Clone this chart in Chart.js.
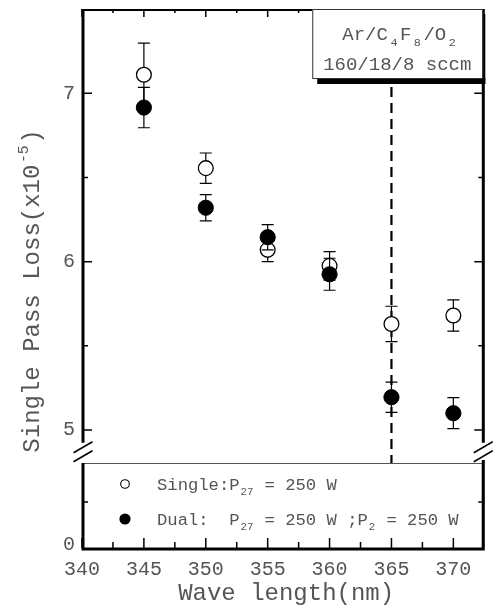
<!DOCTYPE html>
<html><head><meta charset="utf-8">
<style>html,body{margin:0;padding:0;background:#fff;}canvas{display:block;}</style>
<script src="https://cdn.jsdelivr.net/npm/chart.js@4"></script>
</head><body>
<canvas id="c" width="493" height="608"></canvas>
<script>
// ---- data ----
const wavelengths = [345, 350, 355, 360, 365, 370];
const singleLoss  = [7.11, 6.555, 6.07, 5.975, 5.63, 5.68];
const singleErr   = [0.187, 0.09, 0.07, 0.085, 0.105, 0.093];
const dualLoss    = [6.915, 6.32, 6.145, 5.925, 5.195, 5.10];
const dualErr     = [0.12, 0.078, 0.075, 0.095, 0.09, 0.092];
const xTickValues = [340, 345, 350, 355, 360, 365, 370];
const xTickLabels = ['340', '345', '350', '355', '360', '365', '370'];
const xMinorTicks = [342.5, 347.5, 352.5, 357.5, 362.5, 367.5];
const yUpperTicks = [5, 6, 7];
const yUpperLabels = ['5', '6', '7'];
const yUpperMinor = [5.5, 6.5];
const yLowerTicks = [0];
const yLowerLabels = ['0'];
const yLowerMinor = [2.5];
const dashedAt = 365;
const legendSingle = [['Single:P'], ['27', 'sub'], [' = 250 W']];
const legendDual = [['Dual:  P'], ['27', 'sub'], [' = 250 W ;P'], ['2', 'sub'], [' = 250 W']];
const noteLine1 = [['Ar/C'], ['4', 'sub'], ['F'], ['8', 'sub'], ['/O'], ['2', 'sub']];
const noteLine2 = [['160/18/8 sccm']];
const yTitle = [['Single Pass Loss(x10'], ['-5', 'sup'], [')']];
const xTitle = [['Wave length(nm)']];

const TEXT = '#555';
const fontOf = s => s + 'px "Liberation Mono", "DejaVu Sans Mono", monospace';

function richWidth(ctx, segs, size, pad) {
  let w = 0;
  for (const [t, k] of segs) {
    ctx.font = fontOf(k ? size * 0.62 : size);
    w += ctx.measureText(t).width + (k ? 2 * pad : 0);
  }
  return w;
}
function drawRich(ctx, segs, x, y, size, pad) {
  let cx = x;
  for (const [t, k] of segs) {
    const s = k ? size * 0.62 : size;
    ctx.font = fontOf(s);
    const dy = k === 'sub' ? size * 0.32 : (k === 'sup' ? -size * 0.45 : 0);
    if (k) cx += pad;
    ctx.fillText(t, cx, y + dy);
    cx += ctx.measureText(t).width + (k ? pad : 0);
  }
}

const hidden = {ticks: {display: false}, grid: {display: false, drawTicks: false}, border: {display: false}};
const legendTopValue = 4.62; // on the lower (broken) axis

const errorBars = {
  id: 'errorBars',
  beforeDatasetDraw(chart, args) {
    const ds = chart.data.datasets[args.index];
    const xs = chart.scales.x, ys = chart.scales[ds.yAxisID];
    const ctx = chart.ctx;
    ctx.save();
    ctx.strokeStyle = '#000';
    ctx.lineWidth = 1.2;
    ds.data.forEach((p, i) => {
      const e = ds.errors[i];
      const px = xs.getPixelForValue(p.x);
      const t = ys.getPixelForValue(p.y + e), b = ys.getPixelForValue(p.y - e);
      ctx.beginPath();
      ctx.moveTo(px, t); ctx.lineTo(px, b);
      ctx.moveTo(px - 6, t); ctx.lineTo(px + 6, t);
      ctx.moveTo(px - 6, b); ctx.lineTo(px + 6, b);
      ctx.stroke();
    });
    ctx.restore();
  }
};

const decor = {
  id: 'decor',
  beforeDatasetsDraw(chart) {
    const ctx = chart.ctx, a = chart.chartArea, xs = chart.scales.x;
    const px = xs.getPixelForValue(dashedAt);
    const lgTop = chart.scales.y2.getPixelForValue(legendTopValue);
    ctx.save();
    ctx.strokeStyle = '#000';
    ctx.lineWidth = 2.2;
    ctx.setLineDash([10, 6]);
    ctx.beginPath();
    ctx.moveTo(px, a.top + 78); ctx.lineTo(px, lgTop);
    ctx.stroke();
    ctx.restore();
  },
  afterDraw(chart) {
    const ctx = chart.ctx, a = chart.chartArea;
    const xs = chart.scales.x, yu = chart.scales.y, yl = chart.scales.y2;
    ctx.save();
    // legend box
    const lgTop = yl.getPixelForValue(legendTopValue);
    ctx.strokeStyle = '#555'; ctx.lineWidth = 1;
    ctx.strokeRect(a.left + 0.5, lgTop + 0.5, a.right - a.left - 2.5, a.bottom - lgTop);
    // legend entries
    const lx = a.left + 43;
    ctx.fillStyle = '#fff'; ctx.strokeStyle = '#000'; ctx.lineWidth = 1.1;
    ctx.beginPath(); ctx.arc(lx, lgTop + 21, 4.3, 0, Math.PI * 2); ctx.fill(); ctx.stroke();
    ctx.fillStyle = '#000';
    ctx.beginPath(); ctx.arc(lx, lgTop + 56, 5.6, 0, Math.PI * 2); ctx.fill();
    ctx.fillStyle = TEXT; ctx.textAlign = 'left'; ctx.textBaseline = 'alphabetic';
    drawRich(ctx, legendSingle, a.left + 75, lgTop + 27, 17.2, 1);
    drawRich(ctx, legendDual, a.left + 75, lgTop + 62, 17.2, 1);

    // frame lines
    ctx.strokeStyle = '#000';
    const breakTop = yu.getPixelForValue(4.925);
    ctx.lineWidth = 3;
    ctx.beginPath();
    ctx.moveTo(a.left + 1, a.top); ctx.lineTo(a.left + 1, breakTop);
    ctx.moveTo(a.left + 1, lgTop); ctx.lineTo(a.left + 1, a.bottom + 1);
    ctx.lineTo(a.right - 1, a.bottom + 1);
    ctx.lineTo(a.right - 1, lgTop - 3);
    ctx.moveTo(a.right - 1, breakTop); ctx.lineTo(a.right - 1, a.top);
    ctx.stroke();
    ctx.lineWidth = 2;
    ctx.beginPath(); ctx.moveTo(a.left, a.top + 1); ctx.lineTo(a.right, a.top + 1); ctx.stroke();
    // break marks
    ctx.lineWidth = 1.6;
    [a.left + 1, a.right - 1].forEach(bx => {
      [breakTop + 4.5, breakTop + 13.5].forEach(by => {
        ctx.beginPath(); ctx.moveTo(bx - 9.5, by + 5.5); ctx.lineTo(bx + 9.5, by - 5.5); ctx.stroke();
      });
    });

    // ticks
    ctx.lineWidth = 1.5;
    ctx.beginPath();
    const vt = (v, len) => { const p = xs.getPixelForValue(v);
      ctx.moveTo(p, a.bottom); ctx.lineTo(p, a.bottom - len);
      ctx.moveTo(p, a.top); ctx.lineTo(p, a.top + len - 2); };
    xTickValues.forEach(v => vt(v, 10));
    xMinorTicks.forEach(v => vt(v, 6));
    const ht = (s, v, len) => { const p = s.getPixelForValue(v);
      ctx.moveTo(a.left, p); ctx.lineTo(a.left + len, p);
      ctx.moveTo(a.right, p); ctx.lineTo(a.right - len, p); };
    yUpperTicks.forEach(v => ht(yu, v, 10));
    yUpperMinor.forEach(v => ht(yu, v, 6));
    yLowerMinor.forEach(v => ht(yl, v, 6));
    ctx.stroke();

    // tick labels
    ctx.fillStyle = TEXT;
    ctx.font = fontOf(20);
    ctx.textAlign = 'center'; ctx.textBaseline = 'alphabetic';
    xTickValues.forEach((v, i) => ctx.fillText(xTickLabels[i], xs.getPixelForValue(v), a.bottom + 27));
    ctx.textAlign = 'right'; ctx.textBaseline = 'middle';
    yUpperTicks.forEach((v, i) => ctx.fillText(yUpperLabels[i], a.left - 7, yu.getPixelForValue(v)));
    yLowerTicks.forEach((v, i) => ctx.fillText(yLowerLabels[i], a.left - 7, yl.getPixelForValue(v) - 3));

    // axis titles
    ctx.textAlign = 'left'; ctx.textBaseline = 'alphabetic';
    const wx = richWidth(ctx, xTitle, 24, 1.5);
    drawRich(ctx, xTitle, (a.left + a.right) / 2 + 3 - wx / 2, a.bottom + 52, 24, 1.5);
    ctx.save();
    ctx.translate(39, 291);
    ctx.rotate(-Math.PI / 2);
    const wy = richWidth(ctx, yTitle, 24, 1.5);
    drawRich(ctx, yTitle, -wy / 2, 0, 24, 1.5);
    ctx.restore();

    // annotation box with shadow
    const bl = xs.getPixelForValue(358.6), br = a.right - 2, bt = a.top, bb = a.top + 69;
    ctx.fillStyle = '#000';
    ctx.fillRect(bl + 5, bb, br - bl - 2, 6);
    ctx.fillRect(br - 1, bt + 5, 4, bb - bt + 1);
    ctx.fillStyle = '#fff';
    ctx.fillRect(bl, bt, br - bl, bb - bt);
    ctx.strokeStyle = '#333'; ctx.lineWidth = 1;
    ctx.strokeRect(bl + 0.5, bt + 0.5, br - bl, bb - bt);
    ctx.fillStyle = TEXT;
    const w1 = richWidth(ctx, noteLine1, 19, 2.5), w2 = richWidth(ctx, noteLine2, 19, 2.5);
    const cx = (bl + br) / 2;
    drawRich(ctx, noteLine1, cx + 3 - w1 / 2, bt + 31, 19, 2.5);
    drawRich(ctx, noteLine2, cx - w2 / 2, bt + 61, 19, 2.5);
    ctx.restore();
  }
};

new Chart(document.getElementById('c'), {
  type: 'scatter',
  data: {
    datasets: [
      {label: 'Single', yAxisID: 'y', order: 1, errors: singleErr,
       data: wavelengths.map((x, i) => ({x, y: singleLoss[i]})),
       pointRadius: 7.4, pointBackgroundColor: '#fff', pointBorderColor: '#000', pointBorderWidth: 1.3},
      {label: 'Dual', yAxisID: 'y', order: 0, errors: dualErr,
       data: wavelengths.map((x, i) => ({x, y: dualLoss[i]})),
       pointRadius: 7.6, pointBackgroundColor: '#000', pointBorderColor: '#000', pointBorderWidth: 1}
    ]
  },
  options: {
    responsive: false,
    animation: false,
    events: [],
    devicePixelRatio: 1,
    layout: {padding: {left: 82, right: 3, top: 9, bottom: 60}},
    plugins: {legend: {display: false}, tooltip: {enabled: false}},
    scales: {
      x: Object.assign({type: 'linear', position: 'bottom', min: 340, max: 372.5}, hidden),
      y: Object.assign({type: 'linear', position: 'left', stack: 'loss', stackWeight: 447, weight: 2, min: 4.846, max: 7.5}, hidden),
      y2: Object.assign({type: 'linear', position: 'left', stack: 'loss', stackWeight: 92, weight: 1, min: 0, max: 5}, hidden)
    }
  },
  plugins: [errorBars, decor]
});
</script>
</body></html>
